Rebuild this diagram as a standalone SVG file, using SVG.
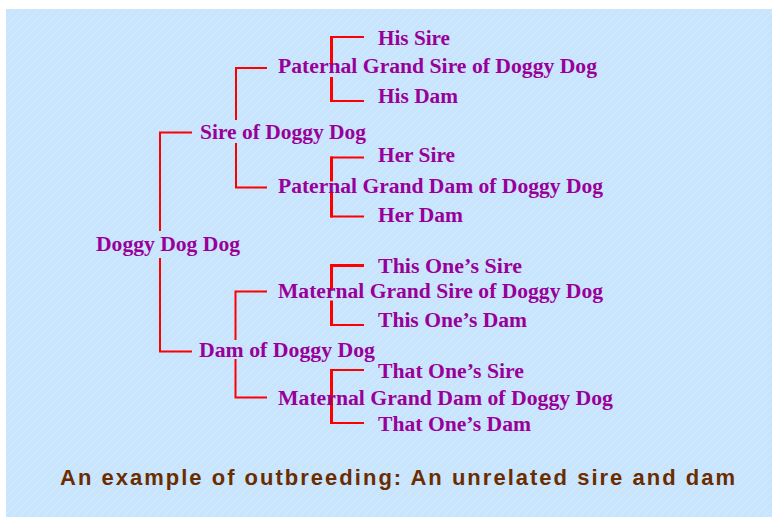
<svg xmlns="http://www.w3.org/2000/svg" width="772" height="517" viewBox="0 0 772 517">
<defs>
<pattern id="stripes" width="8" height="8" patternUnits="userSpaceOnUse">
<rect width="8" height="8" fill="#C8E5FD"/>
<path d="M-2,2 L2,-2 M0,8 L8,0 M6,10 L10,6" stroke="#D3EBFF" stroke-width="1"/>
</pattern>
</defs>
<style>
.n{font-family:"Liberation Serif","Times New Roman",serif;font-weight:bold;font-size:20px;fill:#990099}
.c{fill:none;stroke:#FF0000;stroke-width:2;stroke-linecap:butt}
.b{fill:none;stroke:#FF0000;stroke-width:3}
.cap{font-family:"Liberation Sans",Arial,sans-serif;font-weight:bold;font-size:22px;fill:#6B2C00}
</style>
<rect x="0" y="0" width="772" height="517" fill="#FFFFFF"/>
<rect x="6" y="9" width="766" height="508" fill="url(#stripes)"/>
<g id="connectors">
<path class="c" d="M192,132.5 H160 V231"/>
<path class="c" d="M160,258 V351.5 H192"/>
<path class="c" d="M267,68 H236 V120"/>
<path class="c" d="M236,143 V187.5 H267"/>
<path class="c" d="M267,291.5 H235.5 V340"/>
<path class="c" d="M235.5,359 V397.5 H267"/>
<path class="c" d="M364,37 H331"/>
<path class="b" d="M331.5,36 V66.5 M331.5,77 V102"/>
<path class="c" d="M331,101 H364"/>
<path class="c" d="M364,157.5 H331"/>
<path class="b" d="M331.5,156.5 V181.5 M331.5,191.5 V217.5"/>
<path class="c" d="M331,216.5 H364"/>
<path class="b" d="M364,265.5 H331"/>
<path class="b" d="M331.5,264 V290.5 M331.5,300.5 V326"/>
<path class="c" d="M331,325 H364"/>
<path class="c" d="M364,370 H331"/>
<path class="b" d="M331.5,369 V424"/>
<path class="c" d="M331,423 H364"/>
</g>
<g id="root"><text class="n" x="96" y="251" textLength="144" lengthAdjust="spacingAndGlyphs">Doggy Dog Dog</text></g>
<g id="sire"><text class="n" x="200" y="139" textLength="166" lengthAdjust="spacingAndGlyphs">Sire of Doggy Dog</text></g>
<g id="dam"><text class="n" x="199" y="357" textLength="176" lengthAdjust="spacingAndGlyphs">Dam of Doggy Dog</text></g>
<g id="pgs"><text class="n" x="278" y="73" textLength="319" lengthAdjust="spacingAndGlyphs">Paternal Grand Sire of Doggy Dog</text></g>
<g id="pgd"><text class="n" x="278" y="193" textLength="325" lengthAdjust="spacingAndGlyphs">Paternal Grand Dam of Doggy Dog</text></g>
<g id="mgs"><text class="n" x="278" y="297.5" textLength="325" lengthAdjust="spacingAndGlyphs">Maternal Grand Sire of Doggy Dog</text></g>
<g id="mgd"><text class="n" x="278" y="405" textLength="335" lengthAdjust="spacingAndGlyphs">Maternal Grand Dam of Doggy Dog</text></g>
<g id="his-sire"><text class="n" x="378" y="45" textLength="72" lengthAdjust="spacingAndGlyphs">His Sire</text></g>
<g id="his-dam"><text class="n" x="378" y="103" textLength="80" lengthAdjust="spacingAndGlyphs">His Dam</text></g>
<g id="her-sire"><text class="n" x="378" y="162" textLength="77" lengthAdjust="spacingAndGlyphs">Her Sire</text></g>
<g id="her-dam"><text class="n" x="378" y="222" textLength="85" lengthAdjust="spacingAndGlyphs">Her Dam</text></g>
<g id="this-sire"><text class="n" x="378" y="273" textLength="144" lengthAdjust="spacingAndGlyphs">This One’s Sire</text></g>
<g id="this-dam"><text class="n" x="378" y="327" textLength="149" lengthAdjust="spacingAndGlyphs">This One’s Dam</text></g>
<g id="that-sire"><text class="n" x="378" y="378" textLength="146" lengthAdjust="spacingAndGlyphs">That One’s Sire</text></g>
<g id="that-dam"><text class="n" x="378" y="431" textLength="153" lengthAdjust="spacingAndGlyphs">That One’s Dam</text></g>
<text class="cap" x="60" y="484.5" textLength="675" lengthAdjust="spacing">An example of outbreeding: An unrelated sire and dam</text>
</svg>
